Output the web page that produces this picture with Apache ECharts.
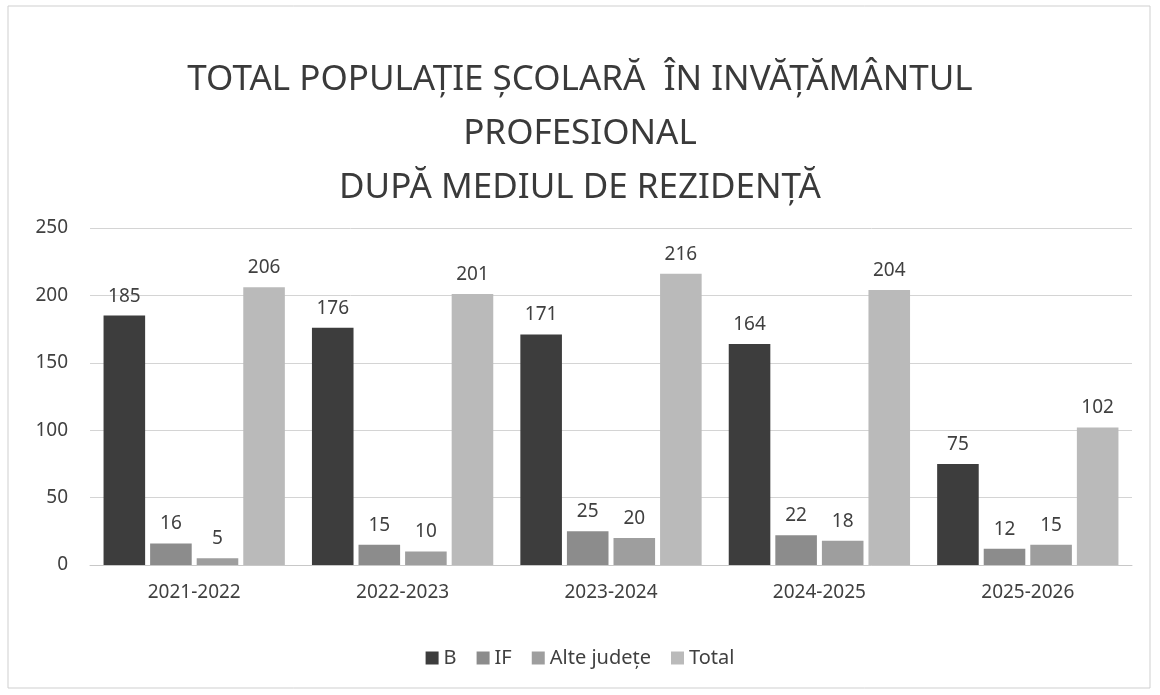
<!DOCTYPE html>
<html>
<head>
<meta charset="utf-8">
<script src="https://cdn.jsdelivr.net/npm/echarts@6/dist/echarts.min.js"></script>
<style>
  html, body { margin: 0; padding: 0; background: #fff; }
  #chart { width: 1160px; height: 695px; }
</style>
</head>
<body>
<div id="chart"></div>
<script>
// ani scolari
const categories = ['2021-2022', '2022-2023', '2023-2024', '2024-2025', '2025-2026']
// numar elevi pe mediu de rezidenta
const valB = [185, 176, 171, 164, 75]
const valIF = [16, 15, 25, 22, 12]
const valAlte = [5, 10, 20, 18, 15]
const valTotal = [206, 201, 216, 204, 102]

const seriesNames = ['B', 'IF', 'Alte județe', 'Total']
const seriesColors = ['#3d3d3d', '#8c8c8c', '#9e9e9e', '#bababa']
const fontFam = '"Noto Sans", "Open Sans", sans-serif'

const makeBar = (name, data, color) => ({
    name,
    type: 'bar',
    data,
    barGap: '12%',
    barCategoryGap: '13%',
    itemStyle: { color },
    label: {
        show: true,
        position: 'top',
        distance: 10,
        color: '#404040',
        fontSize: 19,
        fontFamily: fontFam
    }
})

const chart = echarts.init(document.getElementById('chart'))
chart.setOption({
    backgroundColor: '#fff',
    animation: false,
    title: {
        text: 'TOTAL POPULAȚIE ȘCOLARĂ  ÎN INVĂȚĂMÂNTUL\nPROFESIONAL\nDUPĂ MEDIUL DE REZIDENȚĂ',
        left: 'center',
        top: 48,
        textStyle: {
            color: '#3a3a3a',
            fontSize: 35,
            fontWeight: 'normal',
            fontFamily: fontFam,
            lineHeight: 54
        }
    },
    legend: {
        bottom: 22,
        left: 'center',
        itemWidth: 13,
        itemHeight: 13,
        itemGap: 20,
        icon: 'rect',
        textStyle: { color: '#404040', fontSize: 20, fontFamily: fontFam }
    },
    grid: { left: 90, right: 28, top: 228, bottom: 130 },
    xAxis: {
        type: 'category',
        data: categories,
        axisLine: { lineStyle: { color: '#c8c8c8' } },
        axisTick: { show: false },
        axisLabel: { color: '#404040', fontSize: 19, fontFamily: fontFam, margin: 18 }
    },
    yAxis: {
        type: 'value',
        min: 0,
        max: 250,
        interval: 50,
        axisLine: { show: false },
        axisTick: { show: false },
        splitLine: { lineStyle: { color: '#d4d4d4' } },
        axisLabel: { color: '#404040', fontSize: 19, fontFamily: fontFam, margin: 22 }
    },
    series: [
        makeBar(seriesNames[0], valB, seriesColors[0]),
        makeBar(seriesNames[1], valIF, seriesColors[1]),
        makeBar(seriesNames[2], valAlte, seriesColors[2]),
        makeBar(seriesNames[3], valTotal, seriesColors[3])
    ],
    graphic: [{
        type: 'rect',
        shape: { x: 8, y: 6, width: 1142, height: 682 },
        style: { fill: 'none', stroke: '#cfcfcf', lineWidth: 1 },
        silent: true
    }]
})
</script>
</body>
</html>
